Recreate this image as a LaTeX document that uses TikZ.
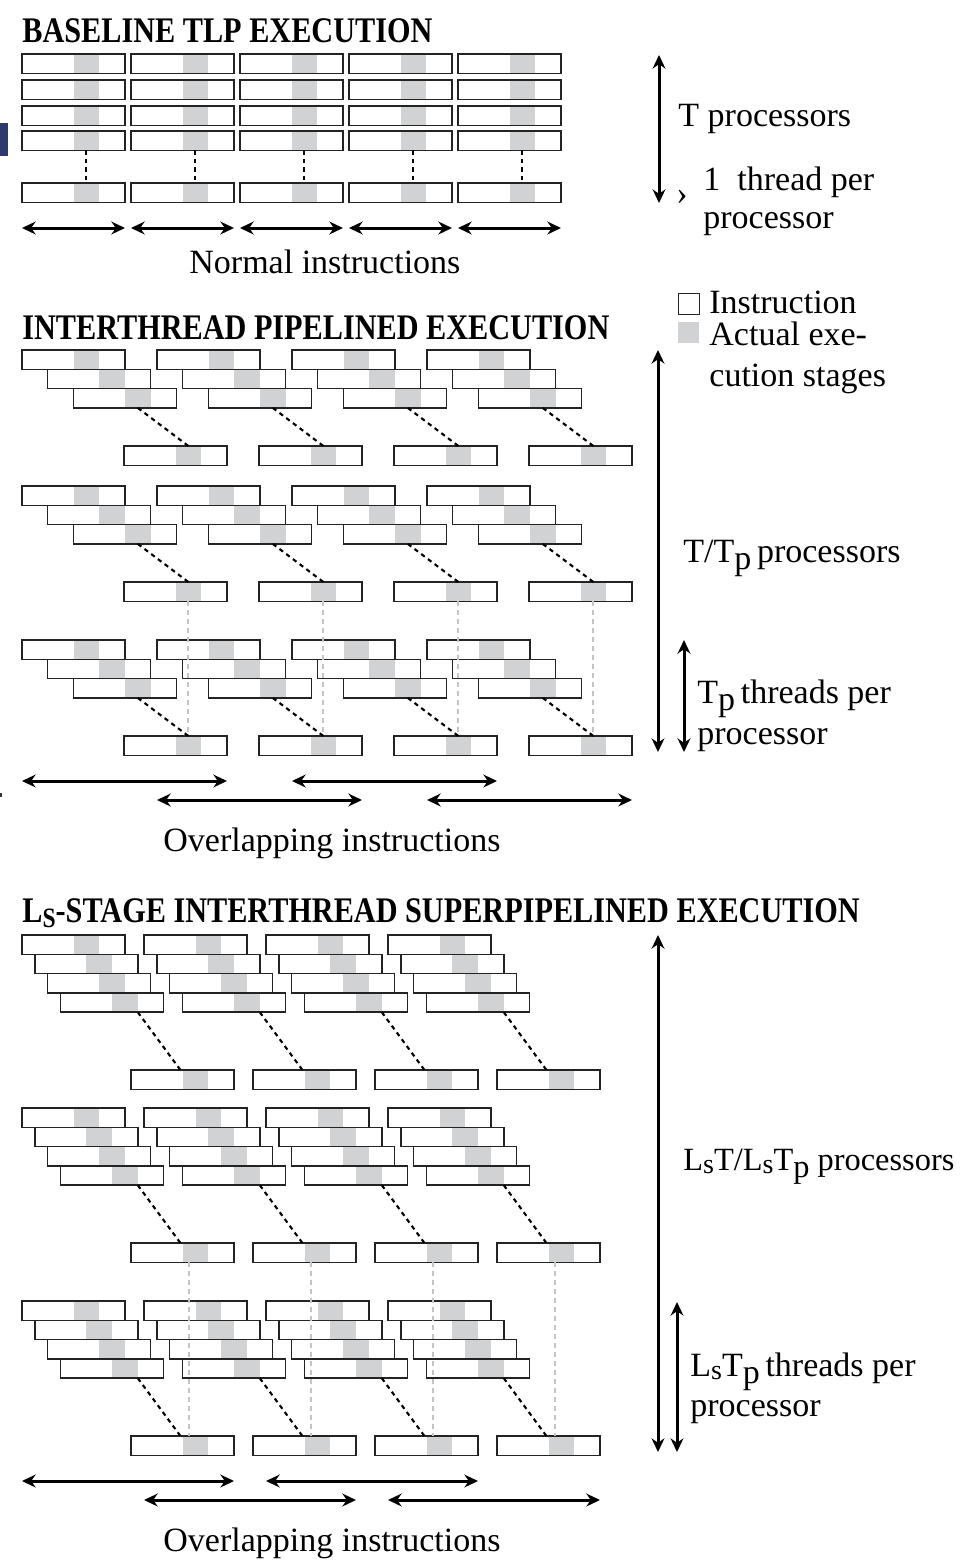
\documentclass[tikz,border=0pt]{standalone}
\usepackage{fontspec}
\setmainfont{Liberation Serif}
\usetikzlibrary{arrows.meta,calc}
\definecolor{execgray}{RGB}{209,210,212}
\definecolor{boxline}{RGB}{35,35,35}
\definecolor{vguide}{RGB}{196,196,196}
\definecolor{navymark}{RGB}{44,58,110}
\newcommand\Pp{\raisebox{-0.22em}{p}}
\newcommand\Ss{\raisebox{-0.1em}{\fontsize{14}{14}\selectfont s}}
\begin{document}
\begin{tikzpicture}[x=0.5pt,y=-0.5pt,
  ibox/.style={draw=boxline, line width=0.75pt, fill=white, minimum width=51.5pt,
    minimum height=9.65pt, inner sep=0pt, outer sep=0pt, anchor=north west,
    path picture={\fill[execgray]
      ($(path picture bounding box.south west)!0.5!(path picture bounding box.south east)$)
      rectangle
      ($(path picture bounding box.north west)!0.75!(path picture bounding box.north east)$);}},
  lbl/.style={anchor=base west, inner sep=0pt, font=\fontsize{17}{20}\selectfont},
  ttl/.style={anchor=base west, inner sep=0pt, font=\fontsize{18}{20}\selectfont\bfseries},
  dimarrow/.style={{Stealth[length=6.8pt,width=6.4pt]}-{Stealth[length=6.8pt,width=6.4pt]}, line width=1.5pt},
  link/.style={draw=black, dash pattern=on 2.2pt off 2pt, line width=1.05pt},
  guide/.style={draw=vguide, dash pattern=on 2.5pt off 2pt, line width=0.9pt}
]
\fill[white] (0,0) rectangle (964,1560);
\useasboundingbox (0,0) rectangle (964,1560);

% scan marks at the left edge
\node[fill=navymark, minimum width=4pt, minimum height=16.5pt, inner sep=0pt, outer sep=0pt, anchor=north west] (scanmark) at (0,123) {};
\node[fill=black!80, minimum width=1pt, minimum height=2pt, inner sep=0pt, anchor=north west] (scandot) at (0,793) {};

% ================= Section 1 =================
\node[ttl] (t1) at (22,42) {\scalebox{0.84}[1]{BASELINE TLP EXECUTION}};
\foreach \c in {0,...,4}{
  \foreach \r/\yy in {1/54,2/80,3/106,4/131,5/183}{
    \node[ibox] (a\r-\c) at ({22+109*\c},\yy) {};
  }
  \draw[link] ($(a4-\c.south west)!0.625!(a4-\c.south east)$) -- ($(a5-\c.north west)!0.625!(a5-\c.north east)$);
  \coordinate (al\c) at ({22+109*\c},228);
  \coordinate (ar\c) at ({125+109*\c},228);
  \draw[dimarrow] (al\c) -- (ar\c);
}
\node[lbl] (normal) at (189,273) {Normal instructions};

\coordinate (v1t) at (659,55);
\coordinate (v1b) at (659,203);
\draw[dimarrow] (v1t) -- (v1b);
\node[lbl] (tproc) at (678,126) {T processors};
\node[lbl] (tick) at (676,204) {›};
\node[lbl] (onethr) at (703,190) {1\ \ thread per};
\node[lbl] (onethrb) at (703,228) {processor};

% legend
\node[draw=boxline, line width=0.5pt, fill=white, minimum size=10.5pt, inner sep=0pt, outer sep=0pt, anchor=north west] (legw) at (678,293) {};
\node[fill=execgray, minimum size=10.5pt, inner sep=0pt, outer sep=0pt, anchor=north west] (legg) at (678,322) {};
\node[lbl] (legwt) at (709,313) {Instruction};
\node[lbl] (leggt) at (709,345) {Actual exe-};
\node[lbl] (leggt2) at (709,386) {cution stages};

% ================= Section 2 =================
\node[ttl] (t2) at (22,339) {\scalebox{0.84}[1]{INTERTHREAD PIPELINED EXECUTION}};
\foreach \g/\gy in {1/350,2/486,3/640}{
  \foreach \c in {0,...,3}{
    \foreach \k in {0,1,2}{
      \node[ibox] (b\g-\c-\k) at ({22+135*\c+25.7*\k},{\gy+19.3*\k}) {};
    }
    \node[ibox] (b\g-\c-L) at ({124+135*\c},{\gy+96}) {};
    \draw[link] ($(b\g-\c-2.south west)!0.625!(b\g-\c-2.south east)$) -- ($(b\g-\c-L.north west)!0.625!(b\g-\c-L.north east)$);
  }
}
\foreach \c in {0,...,3}{
  \draw[guide] ($(b2-\c-L.south west)!0.625!(b2-\c-L.south east)$) -- ($(b3-\c-L.north west)!0.625!(b3-\c-L.north east)$);
}
\coordinate (p1l) at (22,781);  \coordinate (p1r) at (227,781);
\coordinate (p2l) at (292,781); \coordinate (p2r) at (497,781);
\coordinate (p3l) at (157,800); \coordinate (p3r) at (362,800);
\coordinate (p4l) at (427,800); \coordinate (p4r) at (632,800);
\draw[dimarrow] (p1l) -- (p1r);
\draw[dimarrow] (p2l) -- (p2r);
\draw[dimarrow] (p3l) -- (p3r);
\draw[dimarrow] (p4l) -- (p4r);
\node[lbl] (over1) at (163,851) {Overlapping instructions};

\coordinate (v2t) at (658,350); \coordinate (v2b) at (658,752);
\draw[dimarrow] (v2t) -- (v2b);
\coordinate (v3t) at (684,640); \coordinate (v3b) at (684,752);
\draw[dimarrow] (v3t) -- (v3b);
\node[lbl] (ttp) at (683,562) {T/T\Pp\,processors};
\node[lbl] (tpthr) at (697,703) {T\Pp\,threads per};
\node[lbl] (tpthrb) at (697,744) {processor};

% ================= Section 3 =================
\node[ttl] (t3) at (22,922) {\scalebox{0.84}[1]{L\raisebox{-0.15em}{\fontsize{14}{14}\selectfont S}-STAGE INTERTHREAD SUPERPIPELINED EXECUTION}};
\foreach \g/\gy in {1/935,2/1108,3/1301}{
  \foreach \c in {0,...,3}{
    \foreach \k in {0,...,3}{
      \node[ibox] (d\g-\c-\k) at ({22+122*\c+12.85*\k},{\gy+19.3*\k}) {};
    }
    \node[ibox] (d\g-\c-L) at ({131+122*\c},{\gy+135}) {};
    \draw[link] ($(d\g-\c-3.south west)!0.75!(d\g-\c-3.south east)$) -- ($(d\g-\c-L.north west)!0.48!(d\g-\c-L.north east)$);
  }
}
\foreach \c in {0,...,3}{
  \draw[guide] ($(d2-\c-L.south west)!0.56!(d2-\c-L.south east)$) -- ($(d3-\c-L.north west)!0.56!(d3-\c-L.north east)$);
}
\coordinate (q1l) at (22,1481);  \coordinate (q1r) at (234,1481);
\coordinate (q2l) at (266,1481); \coordinate (q2r) at (478,1481);
\coordinate (q3l) at (144,1500); \coordinate (q3r) at (356,1500);
\coordinate (q4l) at (388,1500); \coordinate (q4r) at (600,1500);
\draw[dimarrow] (q1l) -- (q1r);
\draw[dimarrow] (q2l) -- (q2r);
\draw[dimarrow] (q3l) -- (q3r);
\draw[dimarrow] (q4l) -- (q4r);
\node[lbl] (over2) at (163,1551) {Overlapping instructions};

\coordinate (v4t) at (658,935); \coordinate (v4b) at (658,1452);
\draw[dimarrow] (v4t) -- (v4b);
\coordinate (v5t) at (677,1302); \coordinate (v5b) at (677,1452);
\draw[dimarrow] (v5t) -- (v5b);
\node[lbl, font=\fontsize{16.2}{19}\selectfont] (lst) at (683,1170) {L\Ss T/L\Ss T\Pp\ processors};
\node[lbl] (lstp) at (690,1376) {L\Ss T\Pp\,threads per};
\node[lbl] (lstpb) at (690,1416) {processor};
\end{tikzpicture}
\end{document}
